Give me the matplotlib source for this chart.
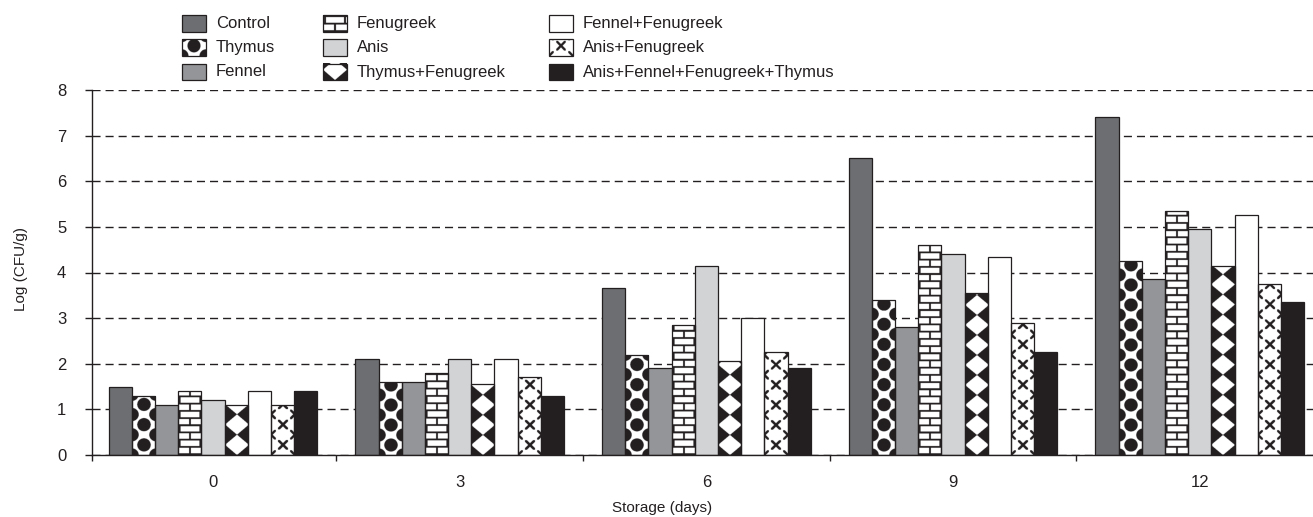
import numpy as np
import matplotlib
matplotlib.use('Agg')
import matplotlib.pyplot as plt
from matplotlib.patches import Rectangle

plt.rcParams['font.family'] = ['Liberation Sans', 'DejaVu Sans']

days = ['0', '3', '6', '9', '12']
names = ['Control', 'Thymus', 'Fennel', 'Fenugreek', 'Anis', 'Thymus+Fenugreek',
         'Fennel+Fenugreek', 'Anis+Fenugreek', 'Anis+Fennel+Fenugreek+Thymus']

control = [1.5, 2.1, 3.65, 6.5, 7.4]
thymus = [1.3, 1.6, 2.2, 3.4, 4.25]
fennel = [1.1, 1.6, 1.9, 2.8, 3.85]
fenugreek = [1.4, 1.8, 2.85, 4.6, 5.35]
anis = [1.2, 2.1, 4.15, 4.4, 4.95]
thymus_fen = [1.1, 1.55, 2.05, 3.55, 4.15]
fennel_fen = [1.4, 2.1, 3.0, 4.35, 5.25]
anis_fen = [1.1, 1.7, 2.25, 2.9, 3.75]
mix = [1.4, 1.3, 1.9, 2.25, 3.35]
series = [control, thymus, fennel, fenugreek, anis, thymus_fen, fennel_fen, anis_fen, mix]

DARK = '#231f20'
fills = ['#6d6e71', 'white', '#939598', 'white', '#d1d3d4', 'white', 'white', 'white', DARK]
kinds = [None, 'dots', None, 'bricks', None, 'diamonds', None, 'crosses', None]


# pattern masks, all in pixels measured from the bar's lower-left corner
def fold(v, period):
    v = v % period
    return np.minimum(v, period - v)


def dots(X, Y, w):
    d1 = np.hypot(X - w / 2, fold(Y - 10, 20))
    d2 = np.hypot(np.minimum(X, w - X), fold(Y, 20))
    return (d1 < 6.5) | (d2 < 6.5)


def bricks(X, Y, w):
    row = np.floor(Y / 7.2)
    horiz = (Y % 7.2) < 1.8
    j0 = np.where(row % 2 == 0, w / 2, w / 2 - 10)
    vert = fold(X - j0, 20) < 0.9
    return horiz | vert


def diamonds(X, Y, w):
    p = (X - w / 2) / w
    q = (Y - 10) / 20
    a = np.floor(p + q + 0.5)
    b = np.floor(p - q + 0.5)
    return (a + b) % 2 == 1


def crosses(X, Y, w):
    def mark(dx, dy):
        return (np.abs(dx - dy) < 1.7) & (np.maximum(dx, dy) < 4.8)
    c1 = mark(np.abs(X - w / 2), fold(Y - 10, 20))
    c2 = mark(np.minimum(X, w - X), fold(Y, 20))
    return c1 | c2


patterns = {'dots': dots, 'bricks': bricks, 'diamonds': diamonds, 'crosses': crosses}
ink = np.array([0x23, 0x1f, 0x20]) / 255.0


def texture(kind, w_px, h_px, ss=4):
    nx = max(int(round(w_px * ss)), 1)
    ny = max(int(round(h_px * ss)), 1)
    xx = (np.arange(nx) + 0.5) * w_px / nx
    yy = (np.arange(ny) + 0.5) * h_px / ny
    X, Y = np.meshgrid(xx, yy)
    m = patterns[kind](X, Y, w_px)
    return np.where(m[..., None], ink, np.ones(3))


fig = plt.figure(figsize=(13.13, 5.17), dpi=100)
ax = fig.add_axes([92 / 1313, 62 / 517, 1221 / 1313, 365 / 517])
ax.set_xlim(-0.4905, 4.459)
ax.set_ylim(0, 8)

x = np.arange(len(days))
bw = 0.094
for k, vals in enumerate(series):
    pos = x + (k - 4) * bw
    bars = ax.bar(pos, vals, bw, color=fills[k], edgecolor='none', zorder=2)
    if kinds[k]:
        for b in bars:
            x0, h = b.get_x(), b.get_height()
            p0 = ax.transData.transform((x0, 0))
            p1 = ax.transData.transform((x0 + bw, h))
            img = texture(kinds[k], p1[0] - p0[0], p1[1] - p0[1])
            im = ax.imshow(img, extent=(x0, x0 + bw, 0, h), origin='lower',
                           aspect='auto', zorder=2.5)
            im.set_clip_path(b)
    ax.bar(pos, vals, bw, fill=False, edgecolor=DARK, linewidth=0.9, zorder=3)

ax.set_xlim(-0.4905, 4.459)
ax.set_ylim(0, 8)

ax.set_yticks(range(9))
ax.yaxis.grid(True, color=DARK, linewidth=1.0, linestyle=(0, (5.8, 3.6)))
ax.set_axisbelow(True)
ax.set_xticks(x, days)
ax.set_xticks([-0.4905, 0.5, 1.5, 2.5, 3.5], minor=True)
ax.tick_params(axis='x', which='major', length=0, pad=14.5, labelsize=12, labelcolor=DARK)
ax.tick_params(axis='x', which='minor', length=4, width=1, color=DARK, direction='out')
ax.tick_params(axis='y', length=5, width=1, color=DARK, pad=13.5, labelsize=12, labelcolor=DARK)
for s in ['top', 'right']:
    ax.spines[s].set_visible(False)
for s in ['left', 'bottom']:
    ax.spines[s].set_color(DARK)
    ax.spines[s].set_linewidth(1.0)

fig.text(21 / 1313, 1 - 269 / 517, 'Log (CFU/g)', rotation=90, ha='center', va='center',
         fontsize=11, color=DARK)
fig.text(662 / 1313, 1 - 508 / 517, 'Storage (days)', ha='center', va='center',
         fontsize=11, color=DARK)

# legend drawn in pixel coordinates on an overlay
lax = fig.add_axes([0, 0, 1, 1])
lax.set_xlim(0, 1313)
lax.set_ylim(517, 0)
lax.axis('off')
col_x = [182, 323, 549]
row_y = [23.5, 47.5, 72]
sw, sh = 24, 16.5
for k, name in enumerate(names):
    cx = col_x[k // 3]
    cy = row_y[k % 3]
    top = cy - sh / 2
    lax.add_patch(Rectangle((cx, top), sw, sh, facecolor=fills[k], edgecolor='none', zorder=2))
    if kinds[k]:
        img = texture(kinds[k], sw, sh)
        lax.imshow(img, extent=(cx, cx + sw, top + sh, top), origin='lower',
                   aspect='auto', zorder=2.5)
    lax.add_patch(Rectangle((cx, top), sw, sh, fill=False, edgecolor=DARK,
                            linewidth=0.9, zorder=3))
    lax.text(cx + 34, cy, name, ha='left', va='center', fontsize=12, color=DARK)
lax.set_xlim(0, 1313)
lax.set_ylim(517, 0)

fig.savefig('out.png', dpi=100)
